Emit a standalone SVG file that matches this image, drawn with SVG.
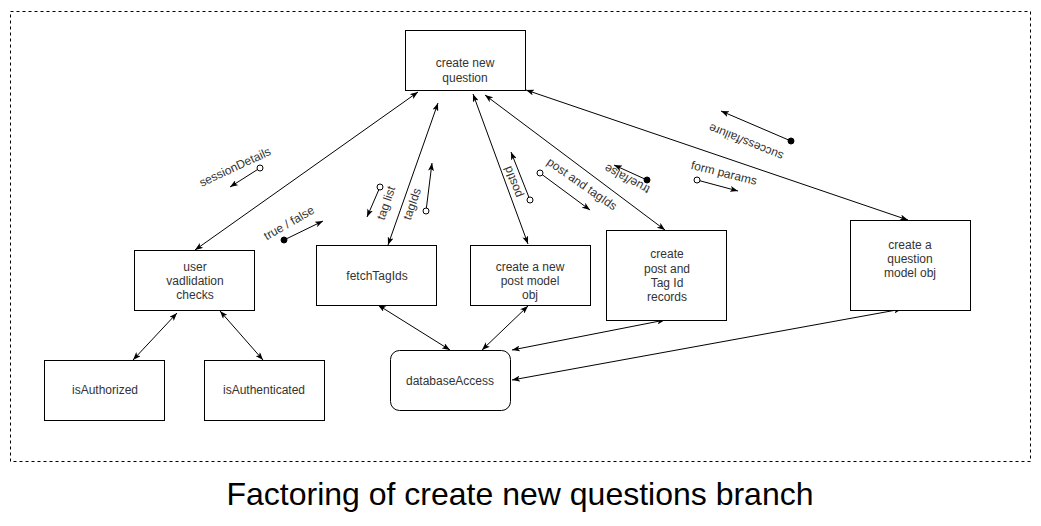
<svg xmlns="http://www.w3.org/2000/svg" width="1041" height="526" viewBox="0 0 1041 526">
<defs>
<marker id="arr" viewBox="0 0 8 6" refX="8" refY="3" markerWidth="8" markerHeight="6" markerUnits="userSpaceOnUse" orient="auto-start-reverse"><path d="M0,0 L8,3 L0,6 L2,3 Z" fill="#000"/></marker>
</defs>
<style>
.box{fill:#fff;stroke:#000;stroke-width:1}
.t{font-family:"Liberation Sans",Arial,sans-serif;font-size:12px;fill:#333;text-anchor:middle}
.lb{font-family:"Liberation Sans",Arial,sans-serif;font-size:12px;fill:#333;text-anchor:middle}
.c{fill:none;stroke:#000;stroke-width:1;marker-start:url(#arr);marker-end:url(#arr)}
.s{fill:none;stroke:#000;stroke-width:1;marker-end:url(#arr)}
.oc{fill:#fff;stroke:#000;stroke-width:1}
.fc{fill:#000;stroke:#000;stroke-width:1}
</style>
<rect width="1041" height="526" fill="#fff"/>
<rect x="10.5" y="11.5" width="1020" height="450" fill="none" stroke="#000" stroke-dasharray="3 3"/>

<g id="connectors">
<line class="c" x1="418" y1="92" x2="195" y2="250"/>
<line class="c" x1="438" y1="103" x2="388" y2="245"/>
<line class="c" x1="473" y1="94" x2="528" y2="244"/>
<line class="c" x1="485" y1="95" x2="665" y2="230"/>
<line class="c" x1="526" y1="90" x2="908" y2="220"/>
<line class="c" x1="177" y1="313" x2="133" y2="360"/>
<line class="c" x1="220" y1="311" x2="263" y2="360"/>
<line class="c" x1="378" y1="305" x2="450" y2="350"/>
<line class="c" x1="528" y1="306" x2="482" y2="350"/>
<line class="c" x1="665" y1="320" x2="512" y2="350"/>
<line class="c" x1="902" y1="309" x2="512" y2="380"/>
</g>

<g id="labels">
<g id="lbl-sessionDetails">
<text class="lb" transform="translate(235,167) rotate(-25)" y="4">sessionDetails</text>
<line class="s" x1="257.4" y1="169.6" x2="230" y2="187"/>
<circle class="oc" cx="260" cy="168" r="3"/>
</g>
<g id="lbl-truefalse1">
<text class="lb" transform="translate(289,223) rotate(-30)" y="4">true / false</text>
<line class="s" x1="284" y1="240" x2="323" y2="221"/>
<circle class="fc" cx="284" cy="240" r="3"/>
</g>
<g id="lbl-taglist">
<text class="lb" transform="translate(386,203) rotate(-71)" y="4">tag list</text>
<line class="s" x1="378.8" y1="189.8" x2="367" y2="217"/>
<circle class="oc" cx="380" cy="187" r="3"/>
</g>
<g id="lbl-tagIds">
<text class="lb" transform="translate(412,204) rotate(-71)" y="4">tagIds</text>
<line class="s" x1="426.4" y1="208" x2="432" y2="163"/>
<circle class="oc" cx="426" cy="211" r="3"/>
</g>
<g id="lbl-postId">
<text class="lb" transform="translate(513,182) rotate(-111)" y="4">postId</text>
<line class="s" x1="528.9" y1="197.2" x2="511" y2="152"/>
<circle class="oc" cx="530" cy="200" r="3"/>
</g>
<g id="lbl-postandtagIds">
<text class="lb" transform="translate(582,184) rotate(35)" y="4">post and tagIds</text>
<line class="s" x1="542.4" y1="174.8" x2="590" y2="210"/>
<circle class="oc" cx="540" cy="173" r="3"/>
</g>
<g id="lbl-truefalse2">
<text class="lb" transform="translate(627,179) rotate(-152)" y="4">true/false</text>
<line class="s" x1="647" y1="180" x2="614" y2="165"/>
<circle class="fc" cx="647" cy="180" r="3"/>
</g>
<g id="lbl-formparams">
<text class="lb" transform="translate(724,173) rotate(14)" y="4">form params</text>
<line class="s" x1="700" y1="180.8" x2="738" y2="191"/>
<circle class="oc" cx="697" cy="180" r="3"/>
</g>
<g id="lbl-successfailure">
<text class="lb" transform="translate(746,142) rotate(-158)" y="4">success/failure</text>
<line class="s" x1="791" y1="141" x2="721" y2="111"/>
<circle class="fc" cx="791" cy="141" r="3"/>
</g>
</g>

<g id="node-createNewQuestion">
<rect class="box" x="405.5" y="30.5" width="120" height="60"/>
<text class="t" x="465" y="67">create new</text>
<text class="t" x="465" y="82">question</text>
</g>
<g id="node-userValidation">
<rect class="box" x="134.5" y="250.5" width="120" height="60"/>
<text class="t" x="195" y="271">user</text>
<text class="t" x="195" y="285">vadlidation</text>
<text class="t" x="195" y="299">checks</text>
</g>
<g id="node-fetchTagIds">
<rect class="box" x="316.5" y="245.5" width="120" height="60"/>
<text class="t" x="377" y="280">fetchTagIds</text>
</g>
<g id="node-postModel">
<rect class="box" x="470.5" y="245.5" width="120" height="60"/>
<text class="t" x="530" y="271">create a new</text>
<text class="t" x="530" y="285">post model</text>
<text class="t" x="530" y="299">obj</text>
</g>
<g id="node-postTagRecords">
<rect class="box" x="606.5" y="230.5" width="120" height="90"/>
<text class="t" x="667" y="258">create</text>
<text class="t" x="667" y="273">post and</text>
<text class="t" x="667" y="287">Tag Id</text>
<text class="t" x="667" y="301">records</text>
</g>
<g id="node-questionModel">
<rect class="box" x="850.5" y="220.5" width="120" height="90"/>
<text class="t" x="910" y="249">create a</text>
<text class="t" x="910" y="263">question</text>
<text class="t" x="910" y="277">model obj</text>
</g>
<g id="node-isAuthorized">
<rect class="box" x="44.5" y="360.5" width="120" height="60"/>
<text class="t" x="105" y="394">isAuthorized</text>
</g>
<g id="node-isAuthenticated">
<rect class="box" x="204.5" y="360.5" width="120" height="60"/>
<text class="t" x="264" y="394">isAuthenticated</text>
</g>
<g id="node-databaseAccess">
<rect class="box" x="390.5" y="350.5" width="120" height="60" rx="9" ry="9"/>
<text class="t" x="450" y="385">databaseAccess</text>
</g>

<text id="title" x="520" y="505" style="font-family:'Liberation Sans',Arial,sans-serif;font-size:32px;fill:#000;text-anchor:middle">Factoring of create new questions branch</text>
</svg>
